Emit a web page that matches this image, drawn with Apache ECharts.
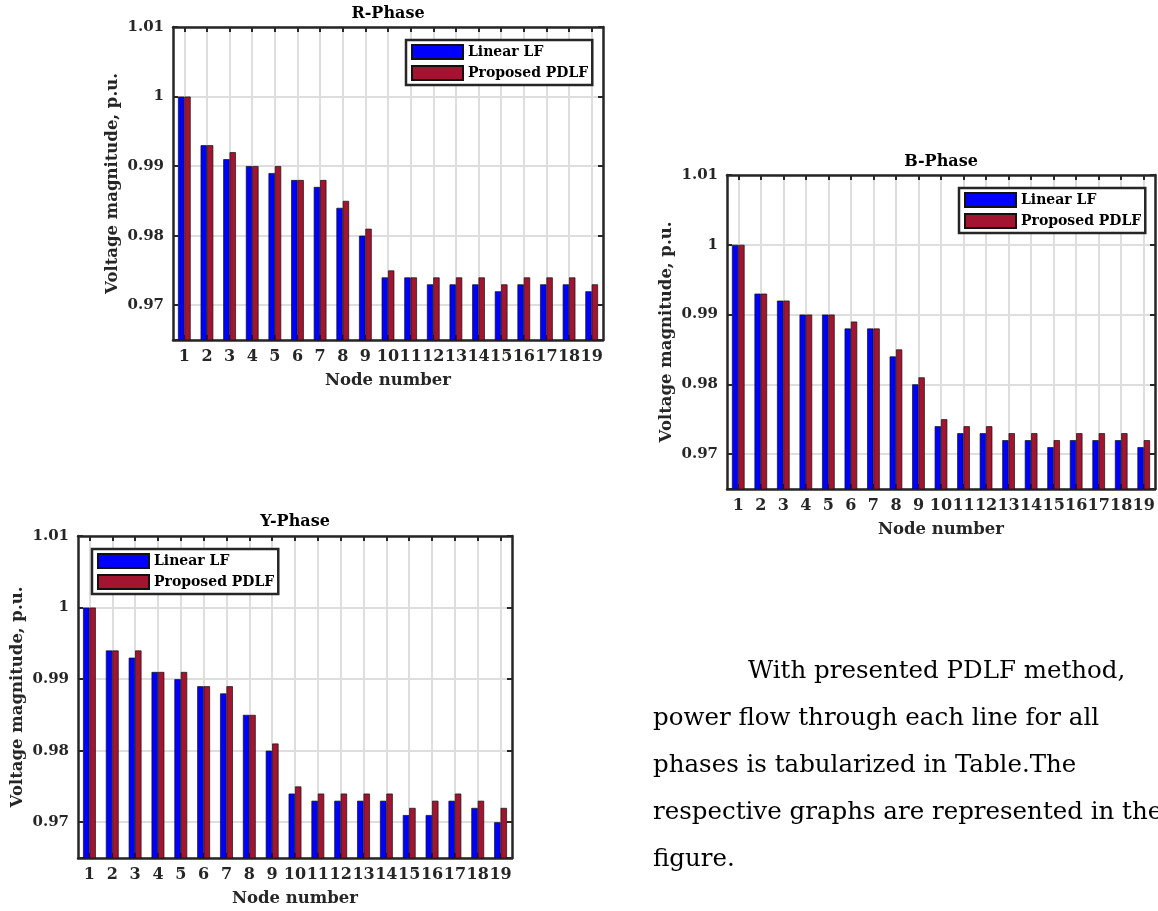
<!DOCTYPE html>
<html><head><meta charset="utf-8">
<script src="https://cdn.jsdelivr.net/npm/echarts@6/dist/echarts.min.js"></script>
<style>
html,body{margin:0;padding:0;background:#fff;overflow:hidden;width:1158px;height:911px;}
#chart{position:absolute;left:0;top:0;width:1158px;height:911px;}
#para{position:absolute;left:653px;top:646px;font-family:"DejaVu Serif",serif;font-size:24.5px;line-height:47px;color:#000;white-space:nowrap;}
#para .indent{padding-left:95px;}
</style></head><body>
<div id="chart"></div>
<div id="para"><div class="indent">With presented PDLF method,</div><div>power flow through each line for all</div><div>phases is tabularized in Table.The</div><div>respective graphs are represented in the</div><div>figure.</div></div>
<script>
// ---- data ----
const nodes = ['1','2','3','4','5','6','7','8','9','10','11','12','13','14','15','16','17','18','19'];
const seriesNames = ['Linear LF', 'Proposed PDLF'];
const panelTitles = ['R-Phase', 'B-Phase', 'Y-Phase'];
const rLinear   = [1.000,0.993,0.991,0.990,0.989,0.988,0.987,0.984,0.980,0.974,0.974,0.973,0.973,0.973,0.972,0.973,0.973,0.973,0.972];
const rProposed = [1.000,0.993,0.992,0.990,0.990,0.988,0.988,0.985,0.981,0.975,0.974,0.974,0.974,0.974,0.973,0.974,0.974,0.974,0.973];
const bLinear   = [1.000,0.993,0.992,0.990,0.990,0.988,0.988,0.984,0.980,0.974,0.973,0.973,0.972,0.972,0.971,0.972,0.972,0.972,0.971];
const bProposed = [1.000,0.993,0.992,0.990,0.990,0.989,0.988,0.985,0.981,0.975,0.974,0.974,0.973,0.973,0.972,0.973,0.973,0.973,0.972];
const yLinear   = [1.000,0.994,0.993,0.991,0.990,0.989,0.988,0.985,0.980,0.974,0.973,0.973,0.973,0.973,0.971,0.971,0.973,0.972,0.970];
const yProposed = [1.000,0.994,0.994,0.991,0.991,0.989,0.989,0.985,0.981,0.975,0.974,0.974,0.974,0.974,0.972,0.973,0.974,0.973,0.972];
const yMin = 0.965, yMax = 1.01;
const xName = 'Node number';
const yName = 'Voltage magnitude, p.u.';

// ---- layout ----
const panels = [
  {title: panelTitles[0], linear: rLinear, proposed: rProposed, grid: {left:173, top:27, width:430, height:313}, legend: {left:406, top:40}, titleY: 14},
  {title: panelTitles[1], linear: bLinear, proposed: bProposed, grid: {left:727, top:175, width:428, height:314}, legend: {left:959, top:188}, titleY: 162},
  {title: panelTitles[2], linear: yLinear, proposed: yProposed, grid: {left:78, top:536, width:434, height:322}, legend: {left:92, top:549}, titleY: 522}
];

const FONT = '"DejaVu Serif", serif';
const AX = '#262626';
const GRIDC = '#dedede';
const BLUE = '#0000ff', RED = '#a2142f';

const option = {
  animation: false,
  backgroundColor: '#fff',
  grid: [], xAxis: [], yAxis: [], series: [], legend: [], graphic: []
};

function yLabel(v) {
  const h = v * 100;
  if (Math.abs(h - Math.round(h)) > 1e-6) return '';
  return String(+v.toFixed(2));
}

panels.forEach((p, i) => {
  option.grid.push(Object.assign({containLabel: false}, p.grid));
  option.xAxis.push({
    type: 'category', gridIndex: i, data: nodes, position: 'bottom',
    name: xName, nameLocation: 'middle', nameGap: 32,
    nameTextStyle: {fontFamily: FONT, fontWeight: 'bold', fontSize: 16.5, color: AX},
    axisLine: {show: true, lineStyle: {color: AX, width: 2.5}},
    axisTick: {show: true, inside: true, alignWithLabel: true, length: 5, lineStyle: {color: AX, width: 2}},
    axisLabel: {interval: 0, margin: 9, fontFamily: FONT, fontWeight: 'bold', fontSize: 16, color: AX},
    splitLine: {show: true, alignWithLabel: true, interval: 0, lineStyle: {color: GRIDC, width: 2}}
  });
  option.xAxis.push({
    type: 'category', gridIndex: i, data: nodes, position: 'top',
    axisLine: {show: true, lineStyle: {color: AX, width: 2.5}},
    axisTick: {show: true, inside: true, alignWithLabel: true, length: 5, lineStyle: {color: AX, width: 2}},
    axisLabel: {show: false}, splitLine: {show: false}
  });
  option.yAxis.push({
    type: 'value', gridIndex: i, min: yMin, max: yMax, splitNumber: 5, position: 'left',
    name: yName, nameLocation: 'middle', nameGap: 52,
    nameTextStyle: {fontFamily: FONT, fontWeight: 'bold', fontSize: 16.5, color: AX},
    axisLine: {show: true, lineStyle: {color: AX, width: 2.5}},
    axisTick: {show: true, inside: true, length: 5, lineStyle: {color: AX, width: 2}},
    axisLabel: {formatter: yLabel, margin: 9, fontFamily: FONT, fontWeight: 'bold', fontSize: 15, color: AX},
    splitLine: {show: true, lineStyle: {color: GRIDC, width: 2}}
  });
  option.yAxis.push({
    type: 'value', gridIndex: i, min: yMin, max: yMax, splitNumber: 5, position: 'right',
    axisLine: {show: true, lineStyle: {color: AX, width: 2.5}},
    axisTick: {show: true, inside: true, length: 5, lineStyle: {color: AX, width: 2}},
    axisLabel: {show: false}, splitLine: {show: false}
  });
  const xi = 2 * i, yi = 2 * i;
  option.series.push({
    type: 'bar', name: seriesNames[0], xAxisIndex: xi, yAxisIndex: yi, data: p.linear,
    barWidth: '28%', barGap: '0%',
    itemStyle: {color: BLUE, borderColor: '#111', borderWidth: 0.7}
  });
  option.series.push({
    type: 'bar', name: seriesNames[1], xAxisIndex: xi, yAxisIndex: yi, data: p.proposed,
    barWidth: '28%', barGap: '0%',
    itemStyle: {color: RED, borderColor: '#111', borderWidth: 0.7}
  });
  option.legend.push({
    left: p.legend.left, top: p.legend.top, orient: 'vertical', selectedMode: false,
    data: seriesNames, icon: 'rect', itemWidth: 51, itemHeight: 14, itemGap: 5,
    padding: [4, 4, 4, 5], borderColor: AX, borderWidth: 2.5, backgroundColor: '#fff',
    textStyle: {fontFamily: FONT, fontWeight: 'bold', fontSize: 14, color: '#000'}
  });
  option.graphic.push({
    type: 'text', x: p.grid.left + p.grid.width / 2, y: p.titleY,
    style: {text: p.title, textAlign: 'center', textVerticalAlign: 'middle',
      font: 'bold 16px ' + FONT, fill: '#000'}
  });
});

const chart = echarts.init(document.getElementById('chart'), null, {renderer: 'canvas', width: 1158, height: 911});
chart.setOption(option);
</script>
</body></html>
